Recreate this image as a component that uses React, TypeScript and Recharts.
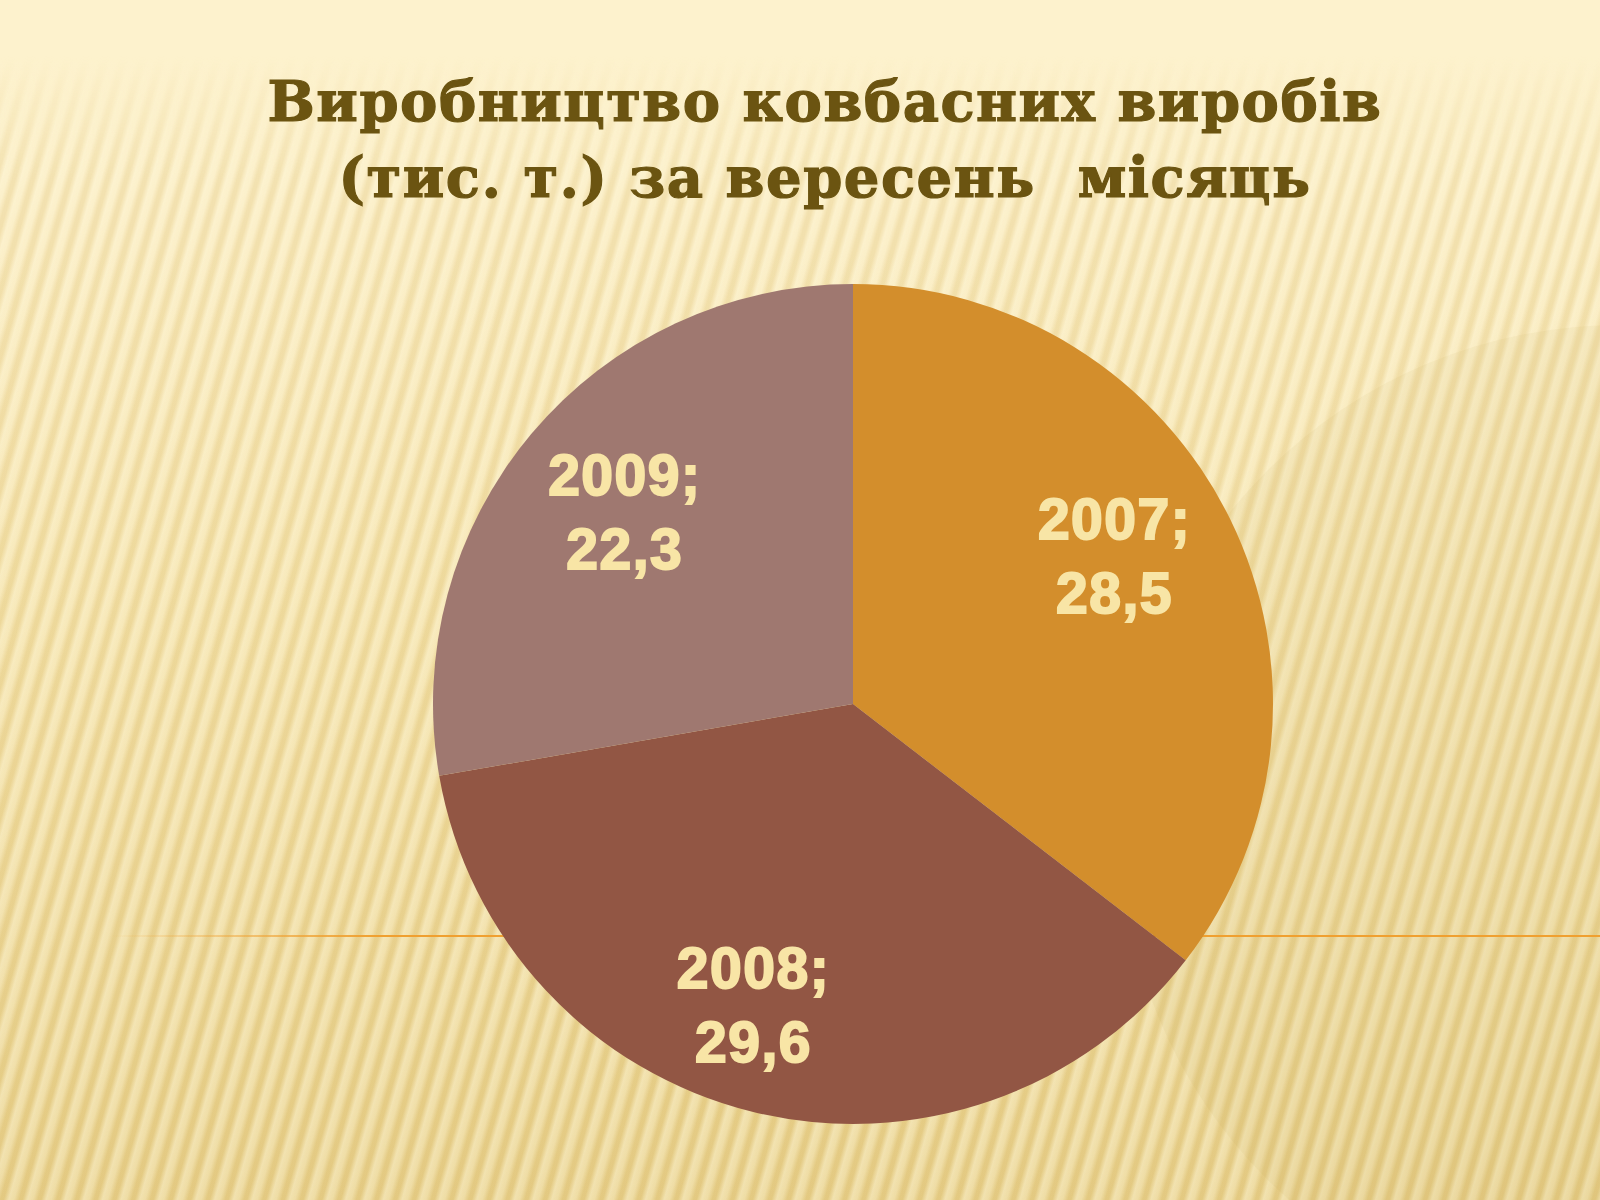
import React from 'react';
import { PieChart, Pie, Cell } from 'recharts';

// production of sausage products, thousand tonnes, September
const years = ['2007', '2008', '2009'];
const production = [28.5, 29.6, 22.3];
const sliceColors = ['#D38E2C', '#925644', '#9F7870'];

const titleLines = ['Виробництво ковбасних виробів', '(тис. т.) за вересень  місяць'];

// small manual nudges for the data labels, the way the slide placed them
const labelNudge = [
  [-6, -16],
  [-28, 12],
  [0, 0],
];

const data = years.map((year, i) => ({ name: year, value: production[i] }));

const RAD = Math.PI / 180;

const SliceLabel = (props: any) => {
  const { cx, cy, midAngle, outerRadius, name, value, index } = props;
  const r = outerRadius * 0.71;
  const [dx, dy] = labelNudge[index] || [0, 0];
  const x = cx + r * Math.cos(-midAngle * RAD) + dx;
  const y = cy + r * Math.sin(-midAngle * RAD) + dy;
  return (
    <text
      x={x}
      y={y}
      textAnchor="middle"
      fill="#F8E5A6"
      stroke="#F8E5A6"
      strokeWidth={2}
      fontFamily="'Liberation Sans', Arial, sans-serif"
      fontWeight="bold"
      fontSize={57}
      style={{ letterSpacing: 1.5 }}
    >
      <tspan x={x} y={y - 37} dominantBaseline="central">{name};</tspan>
      <tspan x={x} y={y + 37} dominantBaseline="central">{String(value).replace('.', ',')}</tspan>
    </text>
  );
};

export default function App() {
  return (
    <div
      style={{
        position: 'absolute',
        left: 0,
        top: 0,
        width: 1600,
        height: 1200,
        overflow: 'hidden',
        background:
          'linear-gradient(180deg, #FDF2CD 0px, #FDF2CD 60px, #FAEBBF 220px, #F4E1A8 620px, #E8D08B 1200px)',
      }}
    >
      {/* diagonal stripe texture, fading in below the top band */}
      <div
        style={{
          position: 'absolute',
          left: 0,
          top: 55,
          width: 1600,
          height: 1145,
          background:
            'repeating-linear-gradient(106deg, rgba(255,250,225,0.42) 0px, rgba(255,250,225,0.3) 5px, rgba(200,165,75,0.14) 10px, rgba(200,165,75,0.14) 13px, rgba(255,250,225,0.42) 18px)',
          WebkitMaskImage: 'linear-gradient(180deg, rgba(0,0,0,0) 0px, rgba(0,0,0,1) 120px)',
          maskImage: 'linear-gradient(180deg, rgba(0,0,0,0) 0px, rgba(0,0,0,1) 120px)',
        }}
      />
      {/* faint large disc shadow on the right */}
      <div
        style={{
          position: 'absolute',
          left: 1120,
          top: 325,
          width: 1000,
          height: 1000,
          borderRadius: '50%',
          background: 'rgba(190,155,70,0.07)',
        }}
      />
      {/* orange rule behind the pie */}
      <div
        style={{
          position: 'absolute',
          left: 110,
          top: 935,
          width: 1490,
          height: 2,
          background: 'linear-gradient(90deg, rgba(240,160,48,0) 0%, #F0A030 18%, #F0A030 100%)',
        }}
      />
      <svg width={1600} height={230} style={{ position: 'absolute', left: 0, top: 0 }}>
        {titleLines.map((line, i) => (
          <text
            key={i}
            x={825}
            y={121 + i * 76}
            textAnchor="middle"
            fill="#6B5411"
            stroke="#6B5411"
            strokeWidth={1.2}
            fontFamily="'DejaVu Serif', serif"
            fontWeight="bold"
            fontSize={56}
            style={{ whiteSpace: 'pre', letterSpacing: 1.5 }}
          >
            {line}
          </text>
        ))}
      </svg>
      <div style={{ position: 'absolute', left: 0, top: 0 }}>
        <PieChart width={1600} height={1200} margin={{ top: 0, right: 0, bottom: 0, left: 0 }}>
          <Pie
            data={data}
            dataKey="value"
            nameKey="name"
            cx={853}
            cy={704}
            outerRadius={420}
            startAngle={90}
            endAngle={-270}
            stroke="none"
            label={SliceLabel}
            labelLine={false}
            isAnimationActive={false}
          >
            {data.map((d, i) => (
              <Cell key={d.name} fill={sliceColors[i]} />
            ))}
          </Pie>
        </PieChart>
      </div>
    </div>
  );
}
